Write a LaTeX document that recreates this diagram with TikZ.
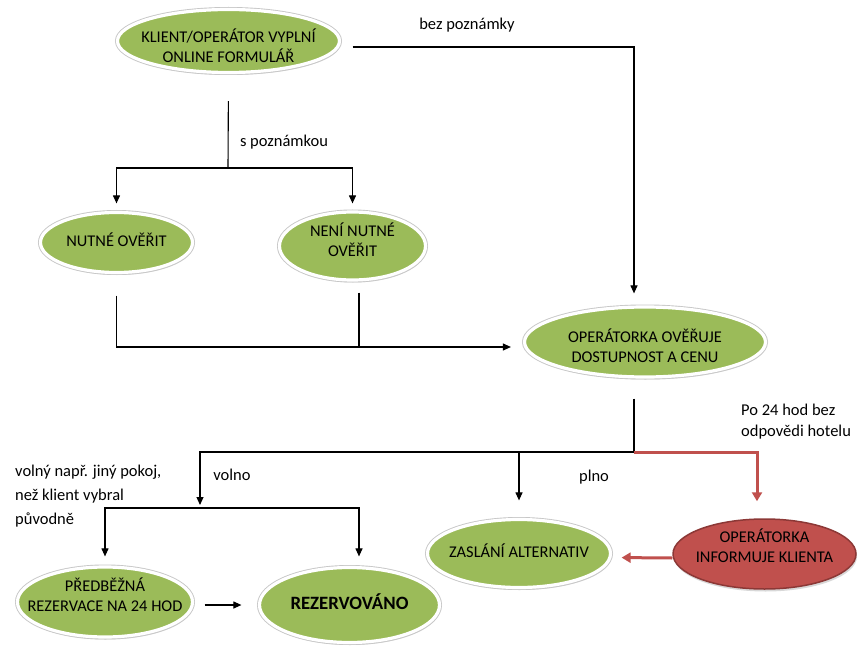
\documentclass[tikz,border=0pt]{standalone}
\usepackage{fontspec}
\setmainfont{Carlito}
\usetikzlibrary{arrows.meta,shapes.geometric,shadows}
\definecolor{leaf}{HTML}{9BBB59}
\definecolor{brick}{HTML}{C0504D}
\definecolor{brickdark}{HTML}{8C3836}
% centred stack of lines that takes no room, so the ellipse keeps its set size;
% #1 moves the text down from the centre
\newcommand\inside[2]{\makebox[0pt]{\raisebox{\dimexpr -#1-0.25em\relax}[0pt][0pt]{\begin{tabular}{@{}c@{}}#2\end{tabular}}}}
\begin{document}
\begin{tikzpicture}[x=1pt,y=-1pt,
  bubble/.style={ellipse, inner sep=0pt, align=center, text=black,
    drop shadow={shadow xshift=1pt, shadow yshift=-2.5pt, opacity=0.3},
    preaction={draw=black!22, line width=5pt},
    fill=leaf, draw=white, line width=3.2pt,
    font=\fontsize{16.4}{20}\selectfont},
  alert/.style={ellipse, inner sep=0pt, align=center, text=black,
    drop shadow={shadow xshift=1pt, shadow yshift=-2.5pt, opacity=0.3},
    fill=brick, draw=brickdark, line width=1.5pt,
    font=\fontsize{16.4}{20}\selectfont},
  link/.style={draw=black, line width=1.1pt},
  flow/.style={link, -{Triangle[length=8pt,width=7pt]}},
  redflow/.style={draw=brick, line width=3pt, -{Triangle[length=9pt,width=10pt]}},
  note/.style={inner sep=0pt, align=left, text=black, font=\fontsize{16.5}{21}\selectfont}
]
\path[use as bounding box, fill=white] (0,0) rectangle (859,647);

% process steps
\node[bubble, minimum width=222pt, minimum height=63pt] (form) at (228.5,41)
  {\inside{8pt}{KLIENT/OPERÁTOR VYPLNÍ\\ONLINE FORMULÁŘ}};
\node[bubble, minimum width=152pt, minimum height=60pt] (nutne) at (116.5,242.5)
  {\inside{0pt}{NUTNÉ OVĚŘIT}};
\node[bubble, minimum width=146pt, minimum height=68pt] (neni) at (352.5,246)
  {\inside{-3pt}{NENÍ NUTNÉ\\OVĚŘIT}};
\node[bubble, minimum width=241pt, minimum height=70pt] (over) at (645,342)
  {\inside{7pt}{OPERÁTORKA OVĚŘUJE\\DOSTUPNOST A CENU}};
\node[bubble, minimum width=175pt, minimum height=70pt] (pred) at (105,602)
  {\inside{-4pt}{PŘEDBĚŽNÁ\\REZERVACE NA 24 HOD}};
\node[bubble, minimum width=180pt, minimum height=75pt, font=\fontsize{18.8}{22}\selectfont\bfseries] (rez) at (349.5,605)
  {\inside{0pt}{REZERVOVÁNO}};
\node[bubble, minimum width=183pt, minimum height=68pt] (zas) at (519,553.5)
  {\inside{0pt}{ZASLÁNÍ ALTERNATIV}};
\node[alert, minimum width=183pt, minimum height=70pt] (info) at (764.5,554)
  {\inside{-5pt}{OPERÁTORKA\\INFORMUJE KLIENTA}};

% branch points
\coordinate (fork1) at (228,168);
\coordinate (fork2) at (634,452);
\coordinate (fork3) at (200,508);
\coordinate (merge) at ([yshift=-5pt]over.west);

% form -> checks
\draw[link, shorten <=27pt] (form.south) -- (fork1);
\draw[flow, shorten >=7.5pt] (fork1) -| (nutne.north);
\draw[flow, shorten >=7pt] (fork1) -| (neni.north);
\draw[flow, shorten <=11.5pt, shorten >=12pt] ([yshift=-6pt]form.east) -| ([xshift=-11pt]over.north);

% checks -> availability
\draw[flow, shorten <=21.5pt, shorten >=12pt] (nutne.south) |- (merge);
\draw[link, shorten <=11pt] ([xshift=6.5pt]neni.south) -- ([xshift=6.5pt]neni.south |- merge);

% availability -> outcomes
\draw[link, shorten <=20pt] ([xshift=-11pt]over.south) -- (fork2);
\draw[flow, shorten >=3pt] (fork2) -| (fork3);
\draw[flow, shorten >=9pt] (fork3) -| (pred.north);
\draw[flow, shorten >=9.5pt] (fork3) -| ([xshift=9.5pt]rez.north);
\draw[flow, shorten >=17.5pt] (zas.north |- fork2) -- (zas.north);
\draw[redflow, shorten >=17pt] (fork2) -| ([xshift=-7.5pt]info.north);
\draw[redflow, shorten >=9.5pt] ([yshift=-4pt]info.west) -- ([yshift=-4pt]zas.east);
\draw[flow, shorten <=10.5pt, shorten >=16.5pt] ([yshift=-3pt]pred.east) -- ([yshift=-3pt]pred.east -| rez.west);

% branch labels
\node[note] (lbez) at (467,25) {bez poznámky};
\node[note] (lspoz) at (284,142) {s poznámkou};
\node[note, anchor=west] (lpo) at (741,422) {Po 24 hod bez\\odpovědi hotelu};
\node[note] (lvolno) at (232,475) {volno};
\node[note] (lplno) at (594,477) {plno};
\node[note, anchor=west, font=\fontsize{16.5}{24}\selectfont] (lvolny) at (15,496)
  {volný např. jiný pokoj,\\než klient vybral\\původně};
\end{tikzpicture}
\end{document}
